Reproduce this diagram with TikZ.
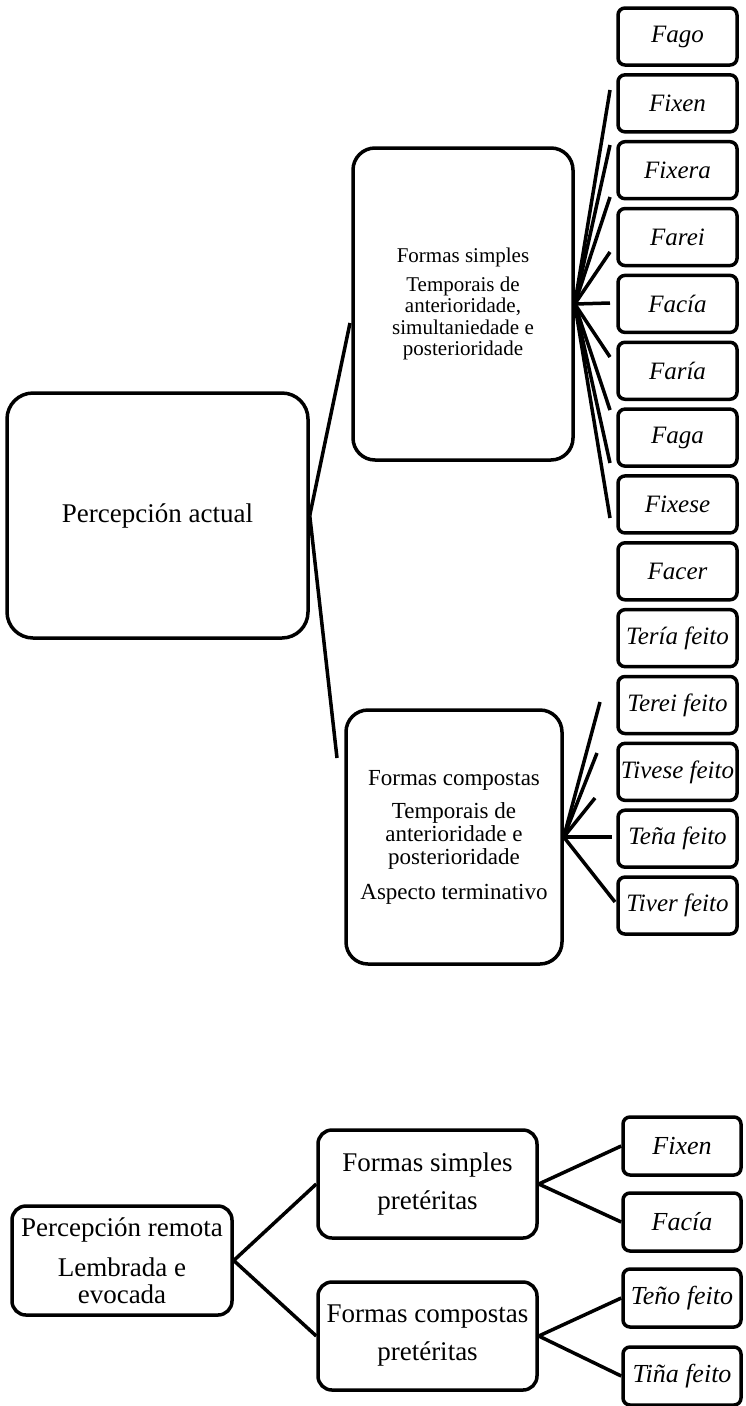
\documentclass[tikz,border=0pt]{standalone}
\usepackage{fontspec}
\setmainfont{Liberation Serif}
\usetikzlibrary{positioning}

\begin{document}
\begin{tikzpicture}[x=1pt, y=-1pt, line width=3.5pt,
    box/.style={draw, rounded corners=22pt, align=center, inner sep=0pt},
    leaf/.style={draw, rounded corners=7pt, minimum width=119pt, minimum height=57pt,
        inner sep=0pt, font=\fontsize{25}{30}\selectfont\itshape}]
\useasboundingbox (0,0) rectangle (745,1406);

% percepcion actual
\node[box, minimum width=301pt, minimum height=245pt, rounded corners=26pt,
    font=\fontsize{27}{32}\selectfont] (pa) at (157.5,515.5) {Percepción actual};
\node[box, minimum width=220pt, minimum height=312pt,
    font=\fontsize{21}{21.5}\selectfont] (fs) at (463,304)
    {Formas simples\\[7pt] Temporais de\\ anterioridade,\\ simultaniedade e\\ posterioridade};
\node[box, minimum width=216pt, minimum height=254pt,
    font=\fontsize{23}{23}\selectfont] (fc) at (454,837)
    {Formas compostas\\[10pt] Temporais de\\ anterioridade e\\ posterioridade\\[12pt] Aspecto terminativo};

\node[leaf] (fago) at (677.5,36.5) {Fago};
\node[leaf] (fixen) at (677.5,103.35) {Fixen};
\node[leaf] (fixera) at (677.5,170.2) {Fixera};
\node[leaf] (farei) at (677.5,237.05) {Farei};
\node[leaf] (facia) at (677.5,303.9) {Facía};
\node[leaf] (faria) at (677.5,370.75) {Faría};
\node[leaf] (faga) at (677.5,437.6) {Faga};
\node[leaf] (fixese) at (677.5,504.45) {Fixese};
\node[leaf] (facer) at (677.5,571.3) {Facer};
\node[leaf] (teriaf) at (677.5,638.15) {Tería feito};
\node[leaf] (tereif) at (677.5,705) {Terei feito};
\node[leaf] (tivesef) at (677.5,771.85) {Tivese feito};
\node[leaf] (tenaf) at (677.5,838.7) {Teña feito};
\node[leaf] (tiverf) at (677.5,905.55) {Tiver feito};

\coordinate (pa1) at (350,323);
\coordinate (pa2) at (337,758);
\coordinate (fs1) at (610,90);
\coordinate (fs2) at (610,145);
\coordinate (fs3) at (610,197);
\coordinate (fs4) at (610,252);
\coordinate (fs5) at (610,303);
\coordinate (fs6) at (610,357);
\coordinate (fs7) at (610,410);
\coordinate (fs8) at (610,463);
\coordinate (fs9) at (610,518);
\coordinate (fc1) at (600,702);
\coordinate (fc2) at (597,753);
\coordinate (fc3) at (595,798);
\coordinate (fc4) at (612,837);
\coordinate (fc5) at (615,902);

\draw (pa.east) edge (pa1) edge (pa2);
\draw (fs.east) edge (fs1) edge (fs2) edge (fs3) edge (fs4) edge (fs5)
    edge (fs6) edge (fs7) edge (fs8) edge (fs9);
\draw (fc.east) edge (fc1) edge (fc2) edge (fc3) edge (fc4) edge (fc5);

% percepcion remota
\node[box, minimum width=220pt, minimum height=109pt, rounded corners=14pt,
    font=\fontsize{27}{27}\selectfont] (pr) at (122,1260.5)
    {Percepción remota\\[13pt] Lembrada e\\ evocada};
\node[box, minimum width=219pt, minimum height=108pt, rounded corners=14pt,
    font=\fontsize{27}{38}\selectfont] (bs) at (427.5,1184) {Formas simples\\ pretéritas};
\node[box, minimum width=219pt, minimum height=108pt, rounded corners=14pt,
    font=\fontsize{27}{38}\selectfont] (bc) at (427.5,1336) {Formas compostas\\ pretéritas};

\node[leaf, minimum width=118pt, minimum height=58pt, font=\fontsize{26}{30}\selectfont\itshape]
    (bfixen) at (682,1146) {Fixen};
\node[leaf, minimum width=118pt, minimum height=58pt, font=\fontsize{26}{30}\selectfont\itshape]
    (bfacia) at (682,1222) {Facía};
\node[leaf, minimum width=118pt, minimum height=58pt, font=\fontsize{26}{30}\selectfont\itshape]
    (bteno) at (682,1298) {Teño feito};
\node[leaf, minimum width=118pt, minimum height=58pt, font=\fontsize{26}{30}\selectfont\itshape]
    (btina) at (682,1376) {Tiña feito};

\draw (pr.east) edge (bs.west) edge (bc.west);
\draw (bs.east) edge (bfixen.west) edge (bfacia.west);
\draw (bc.east) edge (bteno.west) edge (btina.west);
\end{tikzpicture}
\end{document}
